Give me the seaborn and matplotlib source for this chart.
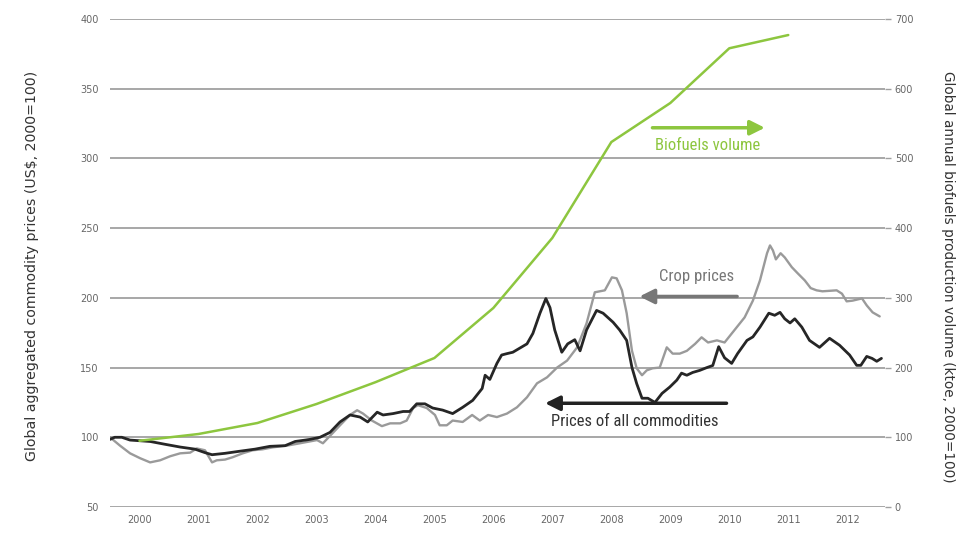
import matplotlib
matplotlib.use('Agg')
import matplotlib.pyplot as plt
from matplotlib import font_manager
import numpy as np
import pandas as pd
import seaborn as sns

# Prices of all commodities (US$, 2000=100), decimal years
all_t = [2000.00, 2000.08, 2000.20, 2000.34, 2000.51, 2000.68, 2000.93, 2001.19, 2001.44, 2001.61,
         2001.73, 2001.95, 2002.20, 2002.46, 2002.71, 2002.97, 2003.14, 2003.31, 2003.39, 2003.56,
         2003.73, 2003.90, 2004.07, 2004.24, 2004.37, 2004.53, 2004.63, 2004.80, 2004.97, 2005.08,
         2005.20, 2005.34, 2005.47, 2005.64, 2005.81, 2005.98, 2006.15, 2006.31, 2006.36, 2006.44,
         2006.56, 2006.64, 2006.73, 2006.83, 2006.95, 2007.07, 2007.17, 2007.29, 2007.39, 2007.46,
         2007.54, 2007.66, 2007.76, 2007.88, 2007.97, 2008.08, 2008.25, 2008.36, 2008.53, 2008.64,
         2008.76, 2008.85, 2008.93, 2009.02, 2009.12, 2009.24, 2009.36, 2009.49, 2009.61, 2009.69,
         2009.78, 2009.88, 2010.00, 2010.12, 2010.22, 2010.32, 2010.42, 2010.54, 2010.64, 2010.80,
         2010.90, 2011.02, 2011.17, 2011.27, 2011.36, 2011.44, 2011.53, 2011.61, 2011.73, 2011.86,
         2012.03, 2012.20, 2012.37, 2012.54, 2012.66, 2012.73, 2012.83, 2012.92, 2013.00, 2013.08]
all_v = [98.5, 100, 100, 98, 97.5, 97, 95, 93, 91.5, 89,
         87.5, 88.5, 90, 91.5, 93.5, 94, 97, 98, 98.5, 100,
         103.5, 111, 116, 114.5, 111, 118, 116, 117, 118.5, 118.5,
         124, 124, 121, 119.5, 117, 121.5, 126.5, 135, 144.5, 141.5,
         153, 159, 160, 161, 164, 167, 174.5, 189, 199.5, 193,
         177, 161, 167, 170, 162, 177, 191, 189, 182.5, 177,
         169.5, 150, 138.5, 128, 128, 125, 131.5, 136, 141, 146,
         144.5, 146.5, 148, 150, 151.5, 165, 157, 153, 160, 169.5,
         172, 179, 189, 187.5, 189.6, 185, 182, 185, 179, 169.5,
         164.5, 171, 166, 159, 151.6, 151.6, 158, 156.6, 154.5, 156.6]

# Crop prices (US$, 2000=100)
crop_t = [2000.00, 2000.17, 2000.34, 2000.51, 2000.68, 2000.85, 2001.02, 2001.19, 2001.36, 2001.47,
          2001.61, 2001.73, 2001.81, 2001.95, 2002.08, 2002.25, 2002.42, 2002.59, 2002.76, 2003.00,
          2003.22, 2003.51, 2003.61, 2003.73, 2003.90, 2004.07, 2004.19, 2004.29, 2004.44, 2004.61,
          2004.75, 2004.92, 2005.03, 2005.14, 2005.22, 2005.37, 2005.51, 2005.59, 2005.71, 2005.81,
          2005.98, 2006.14, 2006.27, 2006.41, 2006.56, 2006.73, 2006.90, 2007.07, 2007.24, 2007.41,
          2007.58, 2007.75, 2007.92, 2008.08, 2008.22, 2008.39, 2008.51, 2008.59, 2008.68, 2008.76,
          2008.85, 2008.93, 2009.02, 2009.10, 2009.20, 2009.32, 2009.44, 2009.54, 2009.66, 2009.78,
          2009.92, 2010.03, 2010.14, 2010.29, 2010.42, 2010.59, 2010.76, 2010.90, 2011.02, 2011.14,
          2011.19, 2011.24, 2011.29, 2011.37, 2011.44, 2011.56, 2011.66, 2011.78, 2011.88, 2011.98,
          2012.08, 2012.32, 2012.41, 2012.49, 2012.59, 2012.75, 2012.83, 2012.93, 2013.05]
crop_v = [100, 94, 88.5, 85, 82, 83.5, 86.4, 88.5, 89, 92,
          90.7, 82, 83.5, 84, 85.7, 88.5, 90.7, 91.4, 92.8, 94,
          95.7, 98, 95.7, 101, 108.6, 116, 119.4, 117, 112, 108,
          110, 110, 112, 121, 123, 121, 116, 108.6, 108.6, 112,
          111, 116, 112, 116, 114.5, 117, 121.5, 128.7, 138.7, 143,
          150, 155, 164.5, 181.7, 204, 205.4, 214.7, 214, 205.4, 189,
          162, 149.5, 144.5, 148, 149.5, 150, 164.5, 160, 160, 162,
          167, 171.7, 168, 169.5, 168, 177, 186, 198, 212.5, 232,
          237.6, 234, 227.6, 232, 229, 222, 217.6, 212.5, 207, 205.4,
          204.7, 205.4, 203, 197.5, 198, 199.6, 194.6, 189.6, 186.7]

# Global annual biofuels production volume (ktoe, 2000=100)
bio_t = [2000.5, 2001.5, 2002.5, 2003.5, 2004.5, 2005.5, 2006.5, 2007.5, 2008.5, 2009.5, 2010.5, 2011.5]
bio_v = [95, 104.7, 120.5, 147.7, 179, 213.7, 285.5, 386, 523.5, 579.5, 658, 677]

years = list(range(2000, 2013))
left_ticks = [50, 100, 150, 200, 250, 300, 350, 400]
right_ticks = [0, 100, 200, 300, 400, 500, 600, 700]

sns.set_style("white")
plt.rcParams['font.family'] = ['DejaVu Sans']

# narrow font for the callouts, if one is around
names = {f.name for f in font_manager.fontManager.ttflist}
cond = [n for n in ['Liberation Sans Narrow', 'DejaVu Sans Condensed', 'Roboto Condensed'] if n in names]
cond_stretch = 'normal'
if not cond:
    cond = ['DejaVu Sans']
    cond_stretch = 'condensed'
cond_size = 12 if cond[0] != 'DejaVu Sans' else 10.2

fig = plt.figure(figsize=(9.8, 5.55), dpi=100)
ax = fig.add_axes([110 / 980, 48 / 555, 775 / 980, 488 / 555])
ax2 = ax.twinx()

df_all = pd.DataFrame({'t': all_t, 'v': all_v})
df_crop = pd.DataFrame({'t': crop_t, 'v': crop_v})
df_bio = pd.DataFrame({'t': bio_t, 'v': bio_v})

grid_c = '#a0a0a0'
for v in left_ticks:
    ax.axhline(v, color=grid_c, lw=1.3, zorder=0)

sns.lineplot(data=df_bio, x='t', y='v', ax=ax2, color='#8dc63f', lw=1.8)
sns.lineplot(data=df_crop, x='t', y='v', ax=ax, color='#9a9a9a', lw=1.7)
sns.lineplot(data=df_all, x='t', y='v', ax=ax, color='#262626', lw=2.0)

ax.set_xlim(2000.0, 2013.14)
ax.set_ylim(50, 400)
ax2.set_ylim(0, 700)
ax.set_yticks(left_ticks)
ax2.set_yticks(right_ticks)
ax.set_xticks([y + 0.5 for y in years])
ax.set_xticklabels([str(y) for y in years])

for a in (ax, ax2):
    for s in a.spines.values():
        s.set_visible(False)
ax.tick_params(axis='x', length=0, labelsize=7, colors='#666666', pad=6)
ax.tick_params(axis='y', length=0, labelsize=7, colors='#666666', pad=8)
ax2.tick_params(axis='y', length=4, width=1, color=grid_c, labelsize=7, colors='#666666', pad=3)
ax2.tick_params(axis='y', color=grid_c)

ax.set_xlabel('')
ax.set_ylabel('')
ax2.set_ylabel('')
fig.text(32 / 980, 1 - 266 / 555, 'Global aggregated commodity prices (US$, 2000=100)',
         fontsize=10.2, color='#333333', rotation=90, ha='center', va='center')
fig.text(948 / 980, 1 - 277 / 555, 'Global annual biofuels production volume (ktoe, 2000=100)',
         fontsize=9.8, color='#333333', rotation=270, ha='center', va='center')

# Biofuels volume
ax.annotate('', xy=(2011.15, 322), xytext=(2009.15, 322),
            arrowprops=dict(arrowstyle='-|>', lw=2.5, color='#8dc63f', mutation_scale=22))
ax.text(2010.14, 309, 'Biofuels volume', color='#8dc63f', fontsize=cond_size, ha='center',
        va='center', family=cond, stretch=cond_stretch)
# Crop prices
ax.annotate('', xy=(2008.93, 201), xytext=(2010.68, 201),
            arrowprops=dict(arrowstyle='-|>', lw=2.5, color='#777777', mutation_scale=22))
ax.text(2009.95, 215.5, 'Crop prices', color='#777777', fontsize=cond_size, ha='center',
        va='center', family=cond, stretch=cond_stretch)
# Prices of all commodities
ax.annotate('', xy=(2007.33, 124.4), xytext=(2010.5, 124.4),
            arrowprops=dict(arrowstyle='-|>', lw=2.5, color='#222222', mutation_scale=22))
ax.text(2008.9, 111.5, 'Prices of all commodities', color='#333333', fontsize=cond_size,
        ha='center', va='center', family=cond, stretch=cond_stretch)

fig.savefig('out.png', dpi=100)
